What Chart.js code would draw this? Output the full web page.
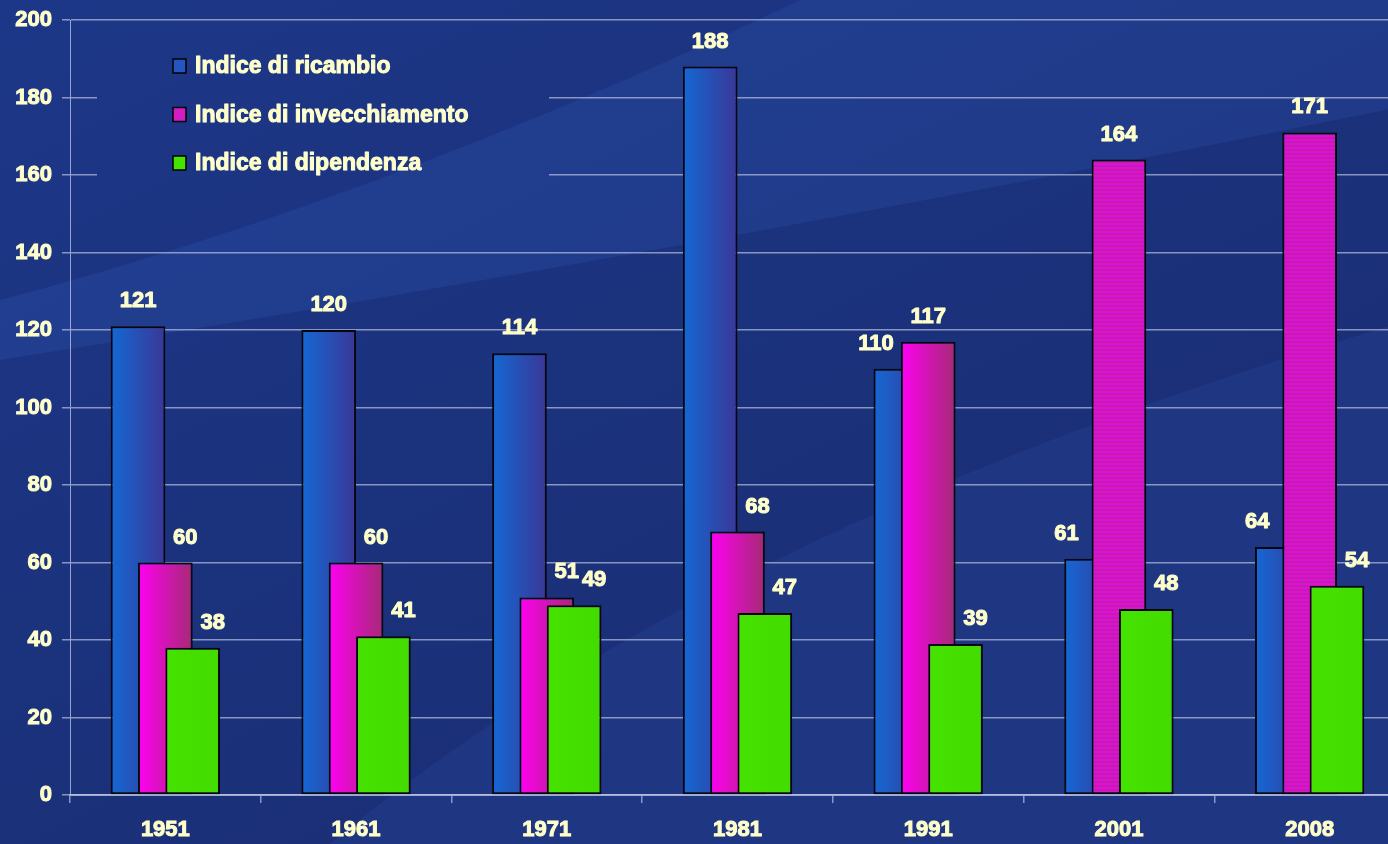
<!DOCTYPE html>
<html lang="it">
<head>
<meta charset="utf-8">
<title>Indici demografici</title>
<script src="https://cdn.jsdelivr.net/npm/chart.js@4.4.1/dist/chart.umd.min.js"></script>
<style>
  html, body { margin: 0; padding: 0; overflow: hidden; background: #1b3480; }
  #wrap { position: relative; width: 1410px; height: 844px; }
</style>
</head>
<body>
<div id="wrap"><canvas id="grafico" width="1410" height="844"></canvas></div>
<script>
// anni del censimento e indici
const anni = ["1951", "1961", "1971", "1981", "1991", "2001", "2008"];
const ricambio = [121, 120, 114, 188, 110, 61, 64];
const invecchiamento = [60, 60, 51, 68, 117, 164, 171];
const dipendenza = [38, 41, 49, 47, 39, 48, 54];
const nomiSerie = ["Indice di ricambio", "Indice di invecchiamento", "Indice di dipendenza"];

const crema = "#ffffcc";
const griglia = "rgba(205,212,238,0.62)";
const percCategoria = 0.43;
const fontTesto = "'Liberation Sans', Arial, sans-serif";

// riquadro della legenda (copre la griglia)
const boxLegenda = { x: 97, y: 32, w: 452, h: 170 };

function sfondo(ctx, w, h) {
    let g = ctx.createLinearGradient(0, 0, w * 0.3, h);
    g.addColorStop(0, "#1d3788");
    g.addColorStop(1, "#1a2f76");
    ctx.fillStyle = g;
    ctx.fillRect(0, 0, w, h);

    // fascia chiara in alto
    ctx.fillStyle = "rgba(70,120,230,0.13)";
    ctx.beginPath();
    ctx.moveTo(0, 300);
    ctx.quadraticCurveTo(380, 200, 800, 0);
    ctx.lineTo(w, 0);
    ctx.lineTo(w, 105);
    ctx.quadraticCurveTo(700, 250, 0, 360);
    ctx.closePath();
    ctx.fill();

    // zona chiara in basso a destra
    ctx.fillStyle = "rgba(70,120,230,0.11)";
    ctx.beginPath();
    ctx.moveTo(330, h);
    ctx.quadraticCurveTo(720, 520, w, 320);
    ctx.lineTo(w, h);
    ctx.closePath();
    ctx.fill();
}

// trama a righe per le barre magenta più recenti
function trama() {
    const c = document.createElement("canvas");
    c.width = 4; c.height = 4;
    const t = c.getContext("2d");
    const righe = ["#dc14d0", "#cf12c2", "#c21cad", "#d816cb"];
    righe.forEach((col, i) => { t.fillStyle = col; t.fillRect(0, i, 4, 1); });
    return t.createPattern(c, "repeat");
}

const canvas = document.getElementById("grafico");
const righeMagenta = trama();

const sfumature = [
    ["#1468d4", "#3a3796"],
    ["#ff00f2", "#a52a74"],
    ["#46e200", "#42dc00"]
];

function coloreBarra(c) {
    const chart = c.chart;
    const xs = chart.scales.x;
    if (c.dataIndex === undefined || !xs || !chart.chartArea) {
        return sfumature[c.datasetIndex][0];
    }
    if (c.datasetIndex === 1 && c.dataIndex >= 5) return righeMagenta;
    const slot = xs.width / anni.length * percCategoria / 3;
    const centro = xs.getPixelForValue(c.dataIndex) + (c.datasetIndex - 1) * slot;
    const g = chart.ctx.createLinearGradient(centro - slot, 0, centro + slot, 0);
    g.addColorStop(0, sfumature[c.datasetIndex][0]);
    g.addColorStop(1, sfumature[c.datasetIndex][1]);
    return g;
}

const font = (s) => ({ family: fontTesto, size: s, weight: "bold" });

function testo(c, s, x, y) {
    c.strokeText(s, x, y);
    c.fillText(s, x, y);
}

const disegno = {
    id: "disegno",
    beforeDraw(chart) {
        sfondo(chart.ctx, chart.width, chart.height);
    },
    beforeDatasetsDraw(chart) {
        const c = chart.ctx;

        // lo sfondo torna sopra la griglia dietro la legenda
        c.save();
        c.beginPath();
        c.rect(boxLegenda.x, boxLegenda.y, boxLegenda.w, boxLegenda.h);
        c.clip();
        sfondo(c, chart.width, chart.height);
        c.restore();

        // barre da sinistra a destra, la successiva sopra la precedente
        for (let i = 0; i < chart.data.datasets.length; i++) {
            chart.getDatasetMeta(i).controller.draw();
        }

        // valori sopra le barre
        c.save();
        c.font = "bold 22px " + fontTesto;
        c.fillStyle = crema;
        c.strokeStyle = crema;
        c.lineWidth = 1;
        c.lineJoin = "round";
        c.textAlign = "center";
        c.textBaseline = "middle";
        chart.data.datasets.forEach((ds, i) => {
            chart.getDatasetMeta(i).data.forEach((bar, j) => {
                const v = ds.data[j];
                const massimo = Math.max(ricambio[j], invecchiamento[j], dipendenza[j]);
                let dx = 0;
                if (v !== massimo) dx = i === 0 ? -25 : 20;
                testo(c, String(v), bar.x + dx, bar.y - 25);
            });
        });

        // legenda
        c.font = "bold 23px " + fontTesto;
        c.textAlign = "left";
        const quadrati = ["#2456c2", "#d41cc4", "#46e200"];
        nomiSerie.forEach((nome, i) => {
            const y = 66 + i * 48.5;
            c.fillStyle = quadrati[i];
            c.fillRect(173, y - 7, 13, 14);
            c.lineWidth = 1.5;
            c.strokeStyle = "#000";
            c.strokeRect(173, y - 7, 13, 14);
            c.fillStyle = crema;
            c.strokeStyle = crema;
            c.lineWidth = 1;
            testo(c, nome, 195, y + 1);
        });
        c.restore();
        return false;
    }
};

const stileBarre = {
    backgroundColor: coloreBarra,
    borderColor: "#05060f",
    borderWidth: 2,
    borderSkipped: false,
    categoryPercentage: percCategoria,
    barPercentage: 2
};

new Chart(canvas, {
    type: "bar",
    data: {
        labels: anni,
        datasets: [
            Object.assign({ label: nomiSerie[0], data: ricambio }, stileBarre),
            Object.assign({ label: nomiSerie[1], data: invecchiamento }, stileBarre),
            Object.assign({ label: nomiSerie[2], data: dipendenza }, stileBarre)
        ]
    },
    options: {
        responsive: false,
        animation: false,
        layout: { padding: { top: 20, right: 5, left: 0, bottom: 0 } },
        plugins: {
            legend: { display: false },
            tooltip: { enabled: false },
            colors: { enabled: false }
        },
        scales: {
            x: {
                afterFit(s) { s.height = 49; s.paddingLeft = 0; s.paddingRight = 0; },
                grid: {
                    offset: true,
                    drawOnChartArea: false,
                    drawTicks: true,
                    tickLength: 8,
                    color: griglia,
                    lineWidth: 1.5
                },
                border: { color: griglia, width: 2 },
                ticks: {
                    color: crema, font: font(22), padding: 14, maxRotation: 0,
                    textStrokeColor: crema, textStrokeWidth: 1
                }
            },
            y: {
                min: 0,
                max: 200,
                afterFit(s) { s.width = 70; s.paddingTop = 0; s.paddingBottom = 0; },
                grid: { color: griglia, lineWidth: 1.5, tickLength: 8 },
                border: { color: "rgba(205,212,238,0.7)", width: 1 },
                ticks: {
                    stepSize: 20, color: crema, font: font(22), padding: 10,
                    textStrokeColor: crema, textStrokeWidth: 1
                }
            }
        }
    },
    plugins: [disegno]
});
</script>
</body>
</html>
